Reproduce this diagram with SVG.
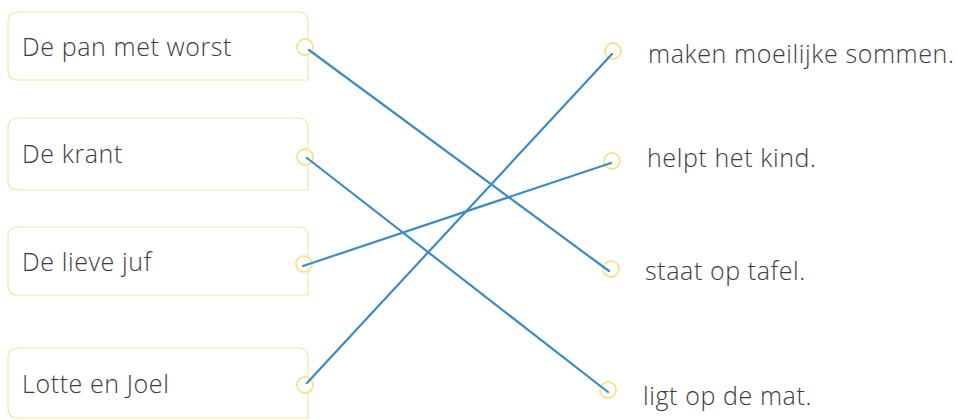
<svg xmlns="http://www.w3.org/2000/svg" width="958" height="420" viewBox="0 0 958 420">
<style>
.box{fill:#fff;stroke:#f2e7a6;stroke-width:1.2}
.dot{fill:#fff;stroke:#f3e38e;stroke-width:1.8}
.t{font-family:"Open Sans","Liberation Sans",sans-serif;font-size:25px;letter-spacing:0.6px;fill:#3c3c3c;font-weight:300}
.ln{stroke:#3d8bc2;stroke-width:2.2;fill:none;stroke-linecap:round}
</style>
<rect width="958" height="420" fill="#fff"/>
<g id="node-pan">
<path class="box" d="M18 12 H298 Q308 12 308 22 V80 H18 Q8 80 8 70 V22 Q8 12 18 12 Z"/>
<circle class="dot" cx="305" cy="47" r="8"/>
<text class="t" x="22" y="56">De pan met worst</text>
</g>
<g id="node-krant">
<path class="box" d="M18 118 H298 Q308 118 308 128 V190 H18 Q8 190 8 180 V128 Q8 118 18 118 Z"/>
<circle class="dot" cx="305" cy="157" r="8"/>
<text class="t" x="22" y="163">De krant</text>
</g>
<g id="node-juf">
<path class="box" d="M18 227 H298 Q308 227 308 237 V295 H18 Q8 295 8 285 V237 Q8 227 18 227 Z"/>
<circle class="dot" cx="304" cy="264" r="8"/>
<text class="t" x="22" y="271">De lieve juf</text>
</g>
<g id="node-lotte">
<path class="box" d="M18 348 H298 Q308 348 308 358 V418 H18 Q8 418 8 408 V358 Q8 348 18 348 Z"/>
<circle class="dot" cx="305" cy="385" r="8"/>
<text class="t" x="22" y="393">Lotte en Joel</text>
</g>
<g id="node-maken">
<circle class="dot" cx="613" cy="51" r="8"/>
<text class="t" x="648" y="63">maken moeilijke sommen.</text>
</g>
<g id="node-helpt">
<circle class="dot" cx="612" cy="161" r="8"/>
<text class="t" x="647" y="167">helpt het kind.</text>
</g>
<g id="node-staat">
<circle class="dot" cx="611" cy="269" r="8"/>
<text class="t" x="645" y="280">staat op tafel.</text>
</g>
<g id="node-ligt">
<circle class="dot" cx="608" cy="390" r="8"/>
<text class="t" x="643" y="405">ligt op de mat.</text>
</g>
<g id="connectors">
<line class="ln" x1="309" y1="50" x2="609" y2="271"/>
<line class="ln" x1="307" y1="158" x2="608" y2="392"/>
<line class="ln" x1="303" y1="266" x2="611" y2="163"/>
<line class="ln" x1="307" y1="383" x2="612" y2="54"/>
</g>
</svg>
